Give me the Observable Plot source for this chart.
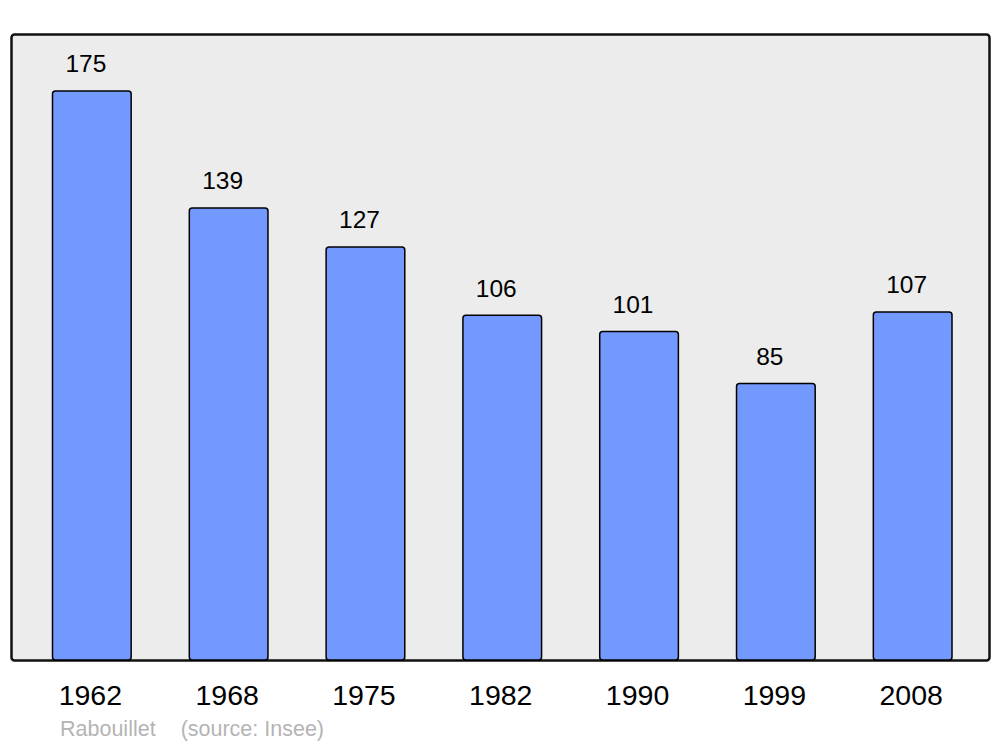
<!DOCTYPE html>
<html>
<head>
<meta charset="utf-8">
<script src="https://cdn.jsdelivr.net/npm/d3@7"></script>
<script src="https://cdn.jsdelivr.net/npm/@observablehq/plot@0.6"></script>
<style>
  html, body { margin: 0; padding: 0; background: #fff; }
  #wrap { position: relative; width: 1000px; height: 747px; font-family: "Liberation Sans", Arial, sans-serif; }
  #caption { position: absolute; left: 60px; top: 719px; font-size: 21.5px; line-height: 21px; color: #b4b4b4; white-space: pre; }
  #caption span + span { margin-left: 25px; }
</style>
</head>
<body>
<div id="wrap"><div id="chart"></div><div id="caption"></div></div>
<script>
const years = ["1962", "1968", "1975", "1982", "1990", "1999", "2008"];
const population = [175, 139, 127, 106, 101, 85, 107];
const captionParts = ["Rabouillet", "(source: Insee)"];

const data = years.map((year, i) => ({year, value: population[i]}));

const chart = Plot.plot({
  width: 1000,
  height: 712,
  marginLeft: 11,
  marginRight: 11,
  marginTop: 34,
  marginBottom: 52,
  style: {fontFamily: '"Liberation Sans", Arial, sans-serif', background: "#fff", color: "#000"},
  x: {domain: years, range: [52.5, 952], paddingInner: 0.425, paddingOuter: 0, round: false, label: null},
  y: {domain: [0, 192.5], axis: null},
  marks: [
    Plot.frame({fill: "#ececec", stroke: "#111", strokeWidth: 2.5, rx: 3}),
    Plot.barY(data, {x: "year", y: "value", fill: "#7399ff", stroke: "#000", strokeWidth: 1.5, rx: 3}),
    Plot.text(data, {x: "year", y: "value", text: d => String(d.value), dy: -27, dx: -6.5, fontSize: 24.5, fill: "#000"}),
    Plot.axisX({tickSize: 0, tickPadding: 24, fontSize: 28.5, dx: -2, label: null, color: "#000"})
  ]
});
document.getElementById("chart").appendChild(chart);
const cap = document.getElementById("caption");
captionParts.forEach(t => { const s = document.createElement("span"); s.textContent = t; cap.appendChild(s); });
</script>
</body>
</html>
